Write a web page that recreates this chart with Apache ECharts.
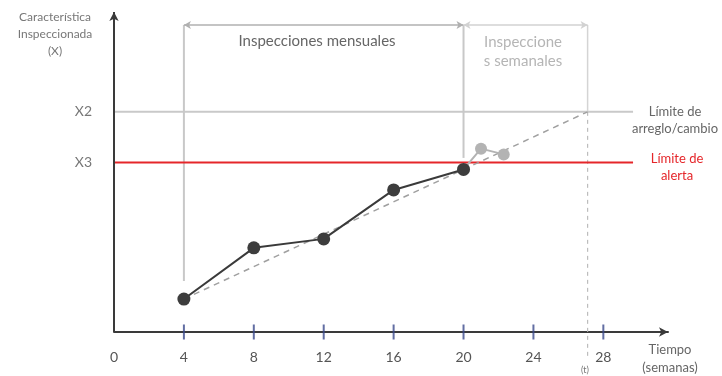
<!DOCTYPE html>
<html>
<head>
<meta charset="utf-8">
<script src="https://cdn.jsdelivr.net/npm/echarts@6/dist/echarts.min.js"></script>
<style>
html,body{margin:0;padding:0;background:#fff;}
#chart{width:722px;height:376px;}
</style>
</head>
<body>
<div id="chart"></div>
<script>
// ---- data ----
const monthlyWeeks = [4, 8, 12, 16, 20];
const monthlyValues = [10.3, 26.3, 29.1, 44.4, 50.8];
const weeklyWeeks = [20, 21, 22.3];
const weeklyValues = [50.8, 57.3, 55.5];
const trendWeeks = [4, 27.1];
const trendValues = [10.3, 68.8];
const alertLimit = 53.0;          // X3
const changeLimit = 68.8;         // X2
const limitStart = 0;
const limitEnd = 29.7;
const tWeek = 27.1;
const bracketLevel = 95.9;
const monthlyBracket = [4, 20];
const weeklyBracket = [20, 27.1];
const guideBottom4 = 15.9;
const guideBottom20 = 54.4;
const tDashBottom = -8.5;
const xTickValues = [4, 8, 12, 16, 20, 24, 28];
const xLabelValues = [0, 4, 8, 12, 16, 20, 24, 28];
const yLabelValues = [alertLimit, changeLimit];
const yLabelTexts = ['X3', 'X2'];
const xMin = 0, xMax = 31.7, yMin = 0, yMax = 100, yMinExt = -10;

const FONT = 'Lato, "Open Sans", sans-serif';
const chart = echarts.init(document.getElementById('chart'));

function seg(xs, ys) { return xs.map((x, i) => [x, ys[i]]); }

const option = {
  animation: false,
  grid: [
    { left: 114, right: 54, top: 12, bottom: 44, containLabel: false, outerBoundsMode: 'none' },
    { left: 114, right: 54, top: 12, bottom: 12, containLabel: false, outerBoundsMode: 'none' }
  ],
  xAxis: [{
    type: 'value', min: xMin, max: xMax, gridIndex: 0,
    axisLine: { lineStyle: { color: '#3a3a3a', width: 2 }, symbol: ['none', 'arrow'], symbolSize: [7, 9] },
    axisTick: { show: false },
    splitLine: { show: false },
    axisLabel: {
      customValues: xLabelValues, margin: 18, color: '#555', fontSize: 14, fontFamily: FONT,
      formatter: v => String(v)
    }
  }, {
    type: 'value', min: xMin, max: xMax, gridIndex: 1, show: false
  }],
  yAxis: [{
    type: 'value', min: yMin, max: yMax, gridIndex: 0,
    axisLine: { show: false },
    axisTick: { show: false },
    splitLine: { show: false },
    axisLabel: {
      customValues: yLabelValues, margin: 22, color: '#777', fontSize: 14, fontFamily: FONT,
      formatter: v => { const i = yLabelValues.indexOf(v); return i >= 0 ? yLabelTexts[i] : ''; }
    }
  }, {
    type: 'value', min: yMinExt, max: yMax, gridIndex: 1, show: false
  }],
  series: [
    // horizontal limits
    { type: 'line', silent: true, symbol: 'none', z: 2,
      data: seg([limitStart, limitEnd], [changeLimit, changeLimit]),
      lineStyle: { color: '#c9c9c9', width: 2 } },
    { type: 'line', silent: true, symbol: 'none', z: 3,
      data: seg([limitStart, limitEnd], [alertLimit, alertLimit]),
      lineStyle: { color: '#e5262a', width: 2 } },
    // vertical guides
    { type: 'line', silent: true, symbol: 'none', z: 2,
      data: seg([monthlyBracket[0], monthlyBracket[0]], [bracketLevel, guideBottom4]),
      lineStyle: { color: '#c8c8c8', width: 2 } },
    { type: 'line', silent: true, symbol: 'none', z: 2,
      data: seg([monthlyBracket[1], monthlyBracket[1]], [bracketLevel, guideBottom20]),
      lineStyle: { color: '#c8c8c8', width: 2 } },
    { type: 'line', silent: true, symbol: 'none', z: 2,
      data: seg([tWeek, tWeek], [bracketLevel, changeLimit]),
      lineStyle: { color: '#d4d4d4', width: 1.5 } },
    { type: 'line', silent: true, symbol: 'none', z: 2, xAxisIndex: 1, yAxisIndex: 1,
      data: seg([tWeek, tWeek], [changeLimit, tDashBottom]),
      lineStyle: { color: '#bdbdbd', width: 1.2, type: [4, 4] } },
    // trend dashed
    { type: 'line', silent: true, symbol: 'none', z: 3,
      data: seg(trendWeeks, trendValues),
      lineStyle: { color: '#a0a0a0', width: 1.5, type: [6, 5] } },
    // brackets (markLines with arrows)
    { type: 'line', silent: true, data: [], z: 4,
      markLine: {
        silent: true, symbol: ['arrow', 'arrow'], symbolSize: [6, 7], label: { show: false },
        emphasis: { disabled: true },
        data: [
          [{ coord: [monthlyBracket[0], bracketLevel], lineStyle: { color: '#b0b0b0', width: 1.5, type: 'solid' } },
           { coord: [monthlyBracket[1], bracketLevel] }],
          [{ coord: [weeklyBracket[0], bracketLevel], lineStyle: { color: '#d2d2d2', width: 1.5, type: 'solid' } },
           { coord: [weeklyBracket[1], bracketLevel] }]
        ]
      } },
    // y axis line with arrow
    { type: 'line', silent: true, data: [], z: 5,
      markLine: {
        silent: true, symbol: ['none', 'arrow'], symbolSize: [7, 9], label: { show: false },
        emphasis: { disabled: true },
        data: [
          [{ coord: [xMin, yMin], lineStyle: { color: '#3a3a3a', width: 2, type: 'solid' } },
           { coord: [xMin, yMax] }]
        ]
      } },
    // axis ticks (crossing the axis)
    { type: 'scatter', silent: true, z: 6, clip: false,
      data: xTickValues.map(v => [v, 0]),
      symbol: 'rect', symbolSize: [2, 15],
      itemStyle: { color: '#3b4a8c' } },
    // weekly inspections
    { type: 'line', silent: true, z: 7,
      data: seg(weeklyWeeks, weeklyValues),
      symbol: 'circle', symbolSize: 12,
      lineStyle: { color: '#b3b3b3', width: 2 },
      itemStyle: { color: '#b3b3b3' } },
    // monthly inspections
    { type: 'line', silent: true, z: 8,
      data: seg(monthlyWeeks, monthlyValues),
      symbol: 'circle', symbolSize: 13,
      lineStyle: { color: '#3a3a3a', width: 2 },
      itemStyle: { color: '#3d3d3d' } }
  ],
  graphic: [
    { type: 'text', x: 55, y: 9, style: { text: 'Característica\nInspeccionada\n(X)', fill: '#777', font: '12px ' + FONT, align: 'center', lineHeight: 17 } },
    { type: 'text', x: 317, y: 34, style: { text: 'Inspecciones mensuales', fill: '#666', font: '15px ' + FONT, align: 'center' } },
    { type: 'text', x: 523, y: 33, style: { text: 'Inspeccione\ns semanales', fill: '#b5b5b5', font: '15px ' + FONT, align: 'center', lineHeight: 19 } },
    { type: 'text', x: 675, y: 103, style: { text: 'Límite de\narreglo/cambio', fill: '#666', font: '13px ' + FONT, align: 'center', lineHeight: 17 } },
    { type: 'text', x: 677, y: 150, style: { text: 'Límite de\nalerta', fill: '#e5262a', font: '13px ' + FONT, align: 'center', lineHeight: 17 } },
    { type: 'text', x: 670, y: 341, style: { text: 'Tiempo\n(semanas)', fill: '#666', font: '13px ' + FONT, align: 'center', lineHeight: 18 } },
    { type: 'text', x: 585, y: 366, style: { text: '(t)', fill: '#777', font: '9px ' + FONT, align: 'center' } }
  ]
};
chart.setOption(option);
</script>
</body>
</html>
